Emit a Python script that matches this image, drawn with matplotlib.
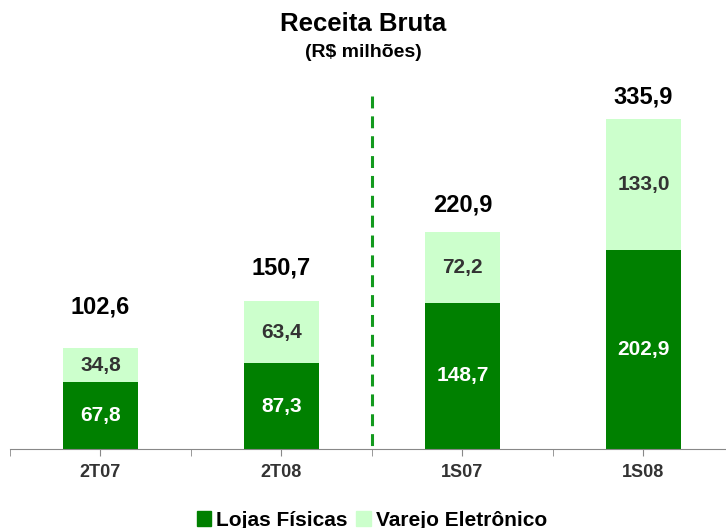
import matplotlib
matplotlib.use("Agg")
import matplotlib.pyplot as plt
from matplotlib.patches import Patch

plt.rcParams['font.family'] = ['Liberation Sans', 'DejaVu Sans']

categories = ["2T07", "2T08", "1S07", "1S08"]
lojas = [67.8, 87.3, 148.7, 202.9]
varejo = [34.8, 63.4, 72.2, 133.0]
totals = [102.6, 150.7, 220.9, 335.9]
total_labels = ["102,6", "150,7", "220,9", "335,9"]

def fmt(v):
    return f"{v:.1f}".replace(".", ",")

# layout (label offsets above bar top, in data units)
total_offsets = [42, 34, 28, 23]

dark = "#008000"
light = "#CCFFCC"

fig = plt.figure(figsize=(7.26, 5.28), dpi=100)
ax = fig.add_axes([10/726, 79/528, 724/726, 0.6695])
x = list(range(len(categories)))
ax.bar(x, lojas, width=0.41, color=dark, zorder=2)
ax.bar(x, varejo, bottom=lojas, width=0.41, color=light, zorder=2)

for i in x:
    ax.text(i, lojas[i] / 2, fmt(lojas[i]), ha="center", va="center",
            color="white", fontsize=15, fontweight="bold")
    ax.text(i, lojas[i] + varejo[i] / 2, fmt(varejo[i]), ha="center", va="center",
            color="#333333", fontsize=15, fontweight="bold")
    ax.text(i, totals[i] + total_offsets[i], total_labels[i], ha="center", va="center",
            color="black", fontsize=17, fontweight="bold")

ax.set_xlim(-0.5, 3.5)
ax.set_ylim(0, 360)
# separator between quarters and semesters, drawn top-down
ax.plot([1.5, 1.5], [ax.get_ylim()[1], 0], color="#139A1E", linestyle=(0, (3.9, 2.6)),
        linewidth=2.2, zorder=1, solid_capstyle="butt", dash_capstyle="butt")

for s in ["top", "right", "left"]:
    ax.spines[s].set_visible(False)
ax.spines["bottom"].set_color("#888888")
ax.set_yticks([])
ax.set_xticks(x)
ax.set_xticklabels(categories, fontsize=13, fontweight="bold", color="#333333")
ax.set_xticks([-0.5, 0.5, 1.5, 2.5, 3.5], minor=True)
ax.tick_params(axis="x", which="both", length=5, color="#888888", pad=6)

fig.text(0.5, 0.955, "Receita Bruta", ha="center", va="center", fontsize=18.5, fontweight="bold")
fig.text(0.5, 0.9, "(R$ milhões)", ha="center", va="center", fontsize=14, fontweight="bold")

handles = [Patch(color=dark, label="Lojas Físicas"), Patch(color=light, label="Varejo Eletrônico")]
fig.legend(handles=handles, loc="center", bbox_to_anchor=(372/726, 8/528), ncol=2, frameon=False,
           prop={"size": 15, "weight": "bold"}, handlelength=0.7, handleheight=0.7,
           handletextpad=0.25, columnspacing=0.4)

fig.savefig("out.png", dpi=100)
